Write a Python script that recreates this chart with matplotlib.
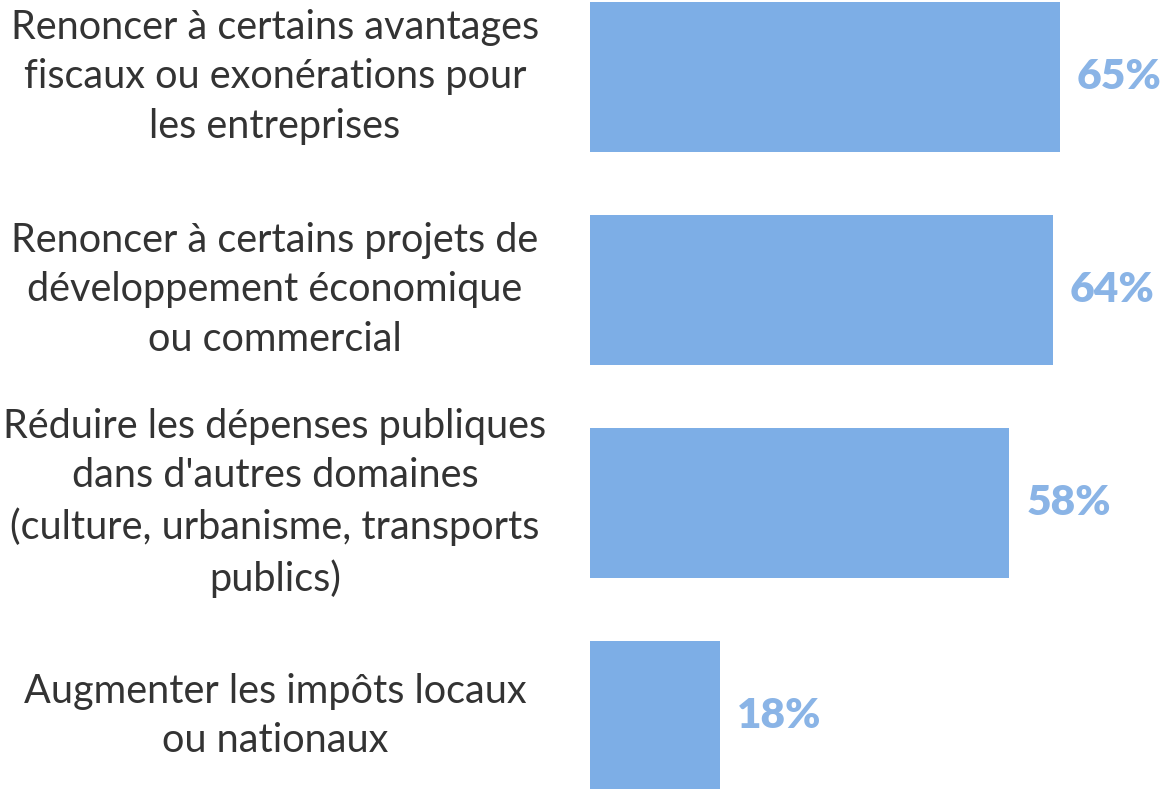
import matplotlib.pyplot as plt
import matplotlib.transforms as mtransforms

plt.rcParams['font.family'] = ['Lato', 'DejaVu Sans']

labels = [
    "Renoncer à certains avantages\nfiscaux ou exonérations pour\nles entreprises",
    "Renoncer à certains projets de\ndéveloppement économique\nou commercial",
    "Réduire les dépenses publiques\ndans d'autres domaines\n(culture, urbanisme, transports\npublics)",
    "Augmenter les impôts locaux\nou nationaux",
]
values = [65, 64, 58, 18]
value_labels = ['65%', '64%', '58%', '18%']

fig = plt.figure(figsize=(11.65, 7.89), dpi=100)
ax = fig.add_axes([590 / 1165, 0, 575 / 1165, 1])

ypos = list(range(len(values)))
ax.barh(ypos, values, height=0.704, color='#7DAEE6')
ax.set_xlim(0, 79.5)
ax.set_ylim(3.343, -0.361)
ax.axis('off')

trans = mtransforms.blended_transform_factory(ax.transAxes, ax.transData)
for y, lab in zip(ypos, labels):
    ax.text(-0.548, y, lab, transform=trans, ha='center', va='center',
            multialignment='center', fontsize=28.5, color='#333333',
            linespacing=1.42)

for y, v, t in zip(ypos, values, value_labels):
    ax.annotate(t, (v, y), xytext=(12, 0), textcoords='offset points',
                ha='left', va='center', fontsize=30.5, fontweight='heavy',
                color='#8AB4E6')

fig.savefig('out.png', dpi=100)
